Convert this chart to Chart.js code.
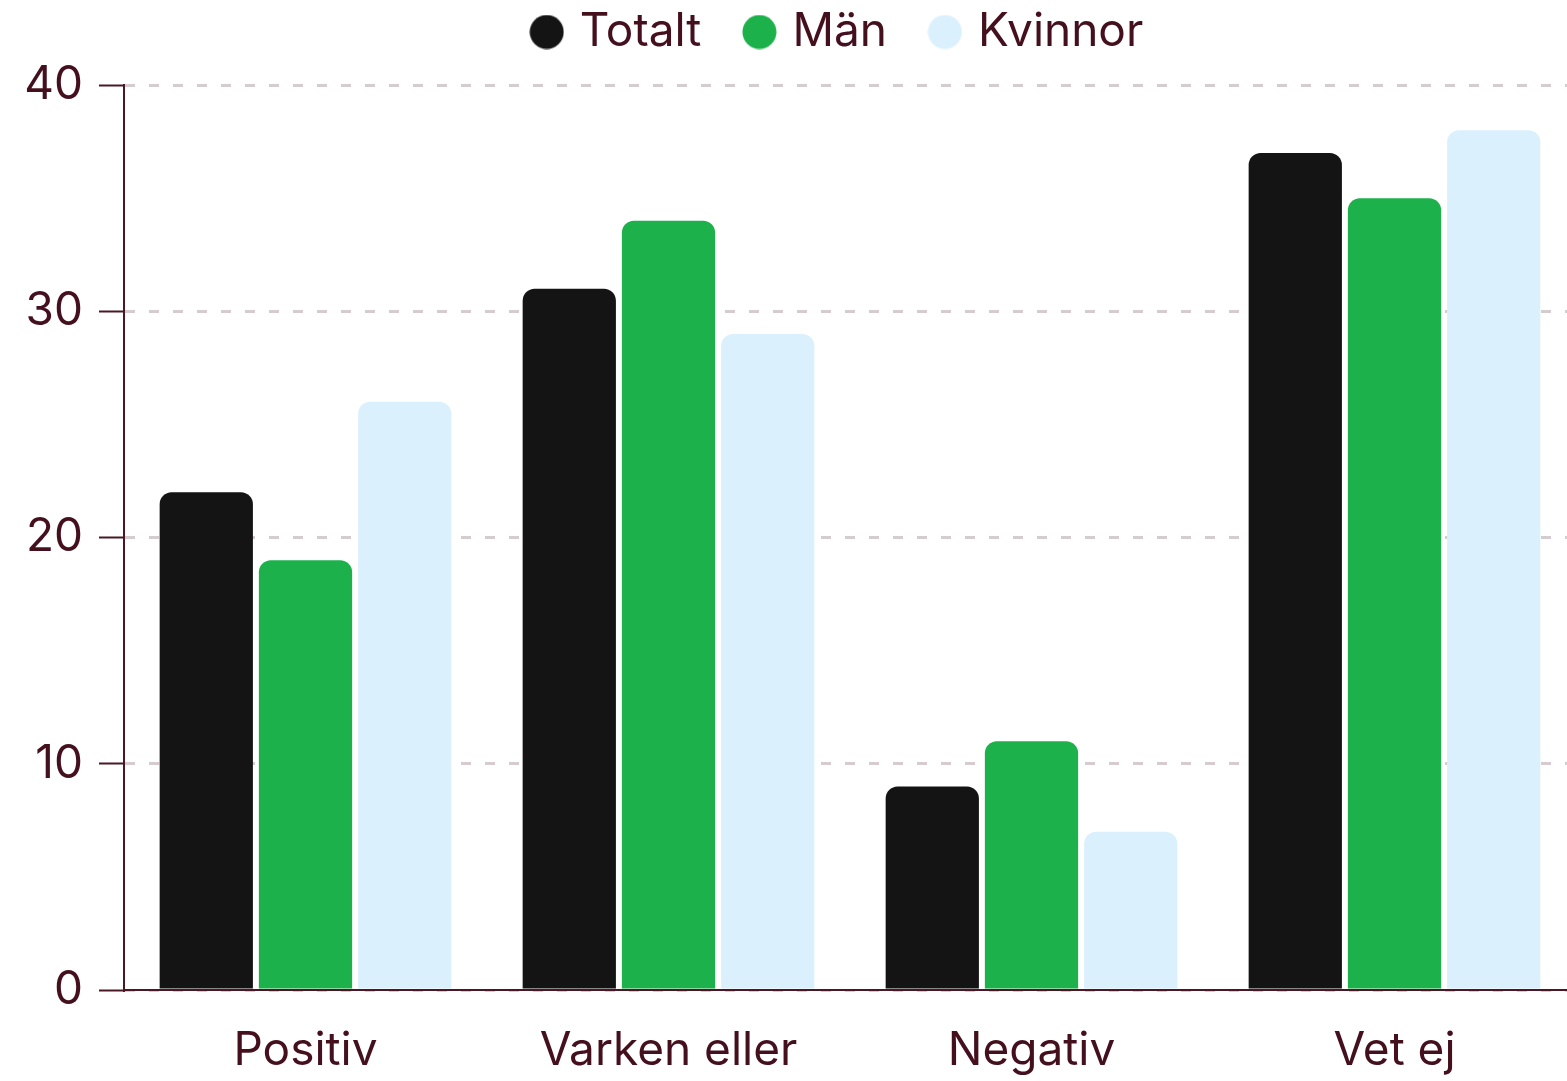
<!DOCTYPE html>
<html>
<head>
<meta charset="utf-8">
<script src="https://cdn.jsdelivr.net/npm/chart.js@4"></script>
<style>
  html, body { margin: 0; padding: 0; background: #fff; overflow: hidden; }
  #wrap { width: 1580px; height: 1081px; }
</style>
</head>
<body>
<div id="wrap"><canvas id="myChart"></canvas></div>
<script>
    const categories = ['Positiv', 'Varken eller', 'Negativ', 'Vet ej'];
    const seriesNames = ['Totalt', 'Män', 'Kvinnor'];
    const totaltValues = [22, 31, 9, 37];
    const manValues = [19, 34, 11, 35];
    const kvinnorValues = [26, 29, 7, 38];
    const yTicks = [0, 10, 20, 30, 40];

    const textColor = '#45101e';
    const axisColor = '#4a1724';
    const gridColor = '#d6cbcf';
    const colors = ['#141414', '#1db14c', '#dbf0fd'];

    Chart.defaults.font.family = 'Inter, "Open Sans", sans-serif';
    Chart.defaults.color = textColor;

    // round legend marker, drawn on a small canvas
    function dot(color) {
        const c = document.createElement('canvas');
        c.width = 35;
        c.height = 35;
        const g = c.getContext('2d');
        g.fillStyle = color;
        g.beginPath();
        g.arc(17.5, 17.5, 17, 0, Math.PI * 2);
        g.fill();
        return c;
    }

    // nudge the legend to where it sits in the original
    const legendShift = {
        id: 'legendShift',
        afterLayout: function (chart) {
            const lg = chart.legend;
            if (lg) {
                lg.left += 52;
                lg.right += 52;
                lg.top -= 20;
                lg.bottom -= 20;
            }
        }
    };

    function makeDataset(label, data, color) {
        return {
            label: label,
            data: data,
            backgroundColor: color,
            borderWidth: 0,
            borderRadius: 12,
            borderSkipped: 'bottom',
            categoryPercentage: 0.82,
            barPercentage: 0.94
        };
    }

    const ctx = document.getElementById('myChart');
    new Chart(ctx, {
        type: 'bar',
        data: {
            labels: categories,
            datasets: [
                makeDataset(seriesNames[0], totaltValues, colors[0]),
                makeDataset(seriesNames[1], manValues, colors[1]),
                makeDataset(seriesNames[2], kvinnorValues, colors[2])
            ]
        },
        options: {
            responsive: true,
            maintainAspectRatio: false,
            animation: false,
            devicePixelRatio: 1,
            layout: {
                padding: { left: 0, right: 4, top: -19, bottom: 0 }
            },
            plugins: {
                tooltip: { enabled: false },
                legend: {
                    position: 'top',
                    labels: {
                        usePointStyle: true,
                        boxHeight: 24,
                        boxWidth: 20,
                        padding: 48,
                        color: textColor,
                        font: { size: 46 },
                        generateLabels: function (chart) {
                            const items = Chart.defaults.plugins.legend.labels.generateLabels(chart);
                            items.forEach(function (item, i) {
                                item.pointStyle = dot(colors[i]);
                            });
                            return items;
                        }
                    }
                }
            },
            scales: {
                x: {
                    afterFit: function (axis) {
                        axis.height = 91;
                    },
                    grid: { display: false, drawTicks: false },
                    border: { display: true, color: axisColor, width: 2 },
                    ticks: { padding: 34, color: textColor, font: { size: 46 } }
                },
                y: {
                    min: 0,
                    max: 40,
                    afterBuildTicks: function (axis) {
                        axis.ticks = yTicks.map(v => ({ value: v }));
                    },
                    afterFit: function (axis) {
                        axis.width = 124;
                    },
                    grid: {
                        color: gridColor,
                        lineWidth: 3,
                        tickColor: axisColor,
                        tickWidth: 2,
                        tickLength: 25,
                        tickBorderDash: []
                    },
                    border: { display: true, color: axisColor, width: 2, dash: [10, 14] },
                    ticks: { padding: 16, color: textColor, font: { size: 46 } }
                }
            }
        },
        plugins: [legendShift]
    });
</script>
</body>
</html>
